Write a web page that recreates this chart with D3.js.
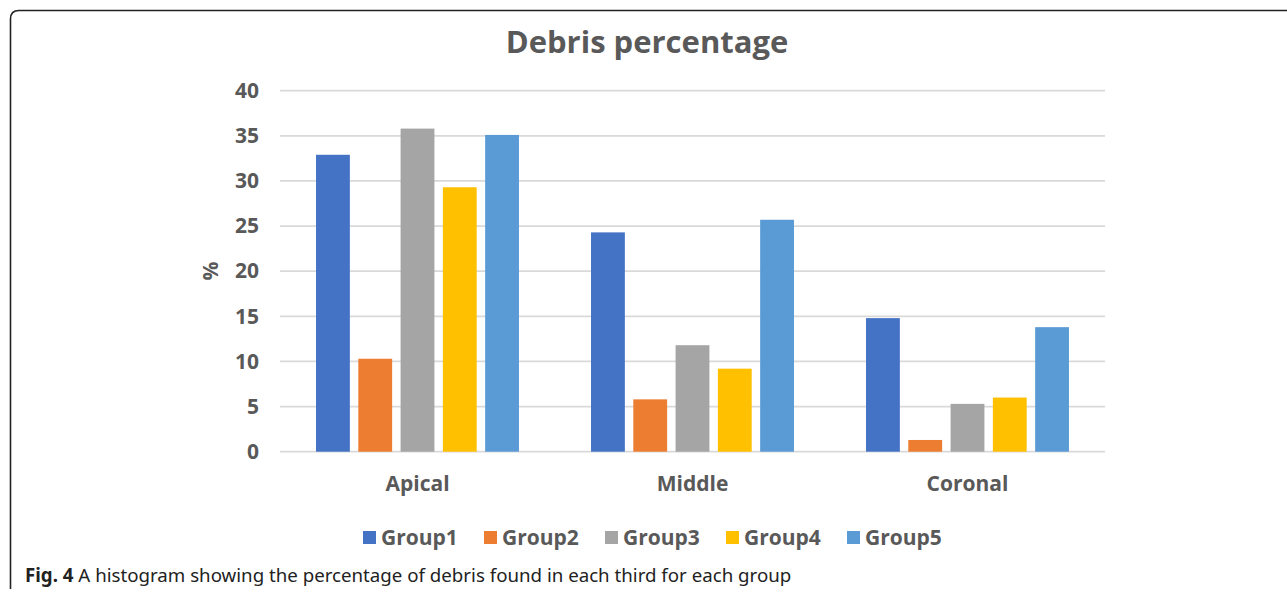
<!DOCTYPE html>
<html>
<head>
<meta charset="utf-8">
<script src="https://cdn.jsdelivr.net/npm/d3@7"></script>
<style>
  html, body { margin: 0; padding: 0; background: #fff; }
  svg { display: block; }
</style>
</head>
<body>
<svg id="chart" width="1287" height="592"></svg>
<script>
// Debris found in each root third, per group (%)
const categories = ["Apical", "Middle", "Coronal"];
const groups = ["Group1", "Group2", "Group3", "Group4", "Group5"];
const group1 = [32.9, 24.3, 14.8];
const group2 = [10.3, 5.8, 1.3];
const group3 = [35.8, 11.8, 5.3];
const group4 = [29.3, 9.2, 6.0];
const group5 = [35.1, 25.7, 13.8];
const yTicks = [0, 5, 10, 15, 20, 25, 30, 35, 40];
const colors = ["#4472C4", "#ED7D31", "#A5A5A5", "#FFC000", "#5B9BD5"];

const seriesValues = [group1, group2, group3, group4, group5];
const rows = categories.map((c, i) => ({
  category: c,
  values: groups.map((g, k) => ({ group: g, value: seriesValues[k][i] }))
}));

const svg = d3.select("#chart");
const W = 1287, H = 592;
const margin = { left: 280, right: 182, top: 90.7, bottom: 140.3 };
const innerW = W - margin.left - margin.right;
const innerH = H - margin.top - margin.bottom;
const labelColor = "#595959";
const chartFont = "'Open Sans', 'Noto Sans', sans-serif";

// Outer frame: top and left edges with a rounded corner
svg.append("path")
  .attr("d", "M1300,10.5 L19,10.5 Q10.5,10.5 10.5,19 L10.5,589")
  .attr("fill", "none")
  .attr("stroke", "#222")
  .attr("stroke-width", 1.6);

const g = svg.append("g").attr("transform", `translate(${margin.left},${margin.top})`);

const x0 = d3.scaleBand().domain(categories).range([0, innerW]).paddingInner(0.262).paddingOuter(0.131);
const x1 = d3.scaleBand().domain(groups).range([0, x0.bandwidth()]).paddingInner(0.2);
const y = d3.scaleLinear().domain([0, 40]).range([innerH, 0]);
const color = d3.scaleOrdinal().domain(groups).range(colors);

// Gridlines
g.append("g")
  .selectAll("line")
  .data(yTicks)
  .join("line")
  .attr("x1", 0)
  .attr("x2", innerW)
  .attr("y1", d => y(d))
  .attr("y2", d => y(d))
  .attr("stroke", "#D9D9D9")
  .attr("stroke-width", 1.8);

// Y axis labels
const yAxis = g.append("g")
  .call(d3.axisLeft(y).tickValues(yTicks).tickSize(0).tickPadding(21).tickFormat(d3.format("d")));
yAxis.select(".domain").remove();
yAxis.selectAll("text")
  .attr("fill", labelColor)
  .style("font-family", chartFont)
  .style("font-weight", 700)
  .style("font-size", "21px");

// Bars
g.append("g")
  .selectAll("g")
  .data(rows)
  .join("g")
  .attr("transform", d => `translate(${x0(d.category)},0)`)
  .selectAll("rect")
  .data(d => d.values)
  .join("rect")
  .attr("x", d => x1(d.group))
  .attr("width", x1.bandwidth())
  .attr("y", d => y(d.value))
  .attr("height", d => y(0) - y(d.value))
  .attr("fill", d => color(d.group));

// Category axis
const xAxis = g.append("g")
  .attr("transform", `translate(0,${innerH})`)
  .call(d3.axisBottom(x0).tickSize(0).tickPadding(24));
xAxis.select(".domain").remove();
xAxis.selectAll("text")
  .attr("fill", labelColor)
  .style("font-family", chartFont)
  .style("font-weight", 700)
  .style("font-size", "21px");

// Y axis title
svg.append("text")
  .attr("transform", "translate(210,271) rotate(-90)")
  .attr("text-anchor", "middle")
  .attr("dominant-baseline", "central")
  .attr("fill", labelColor)
  .style("font-family", chartFont)
  .style("font-weight", 700)
  .style("font-size", "21px")
  .text("%");

// Chart title
svg.append("text")
  .attr("x", 647)
  .attr("y", 53)
  .attr("text-anchor", "middle")
  .attr("fill", labelColor)
  .style("font-family", chartFont)
  .style("font-weight", 700)
  .style("font-size", "31px")
  .text("Debris percentage");

// Legend
const legendStep = 121;
const legend = svg.append("g").attr("transform", "translate(363,0)");
const item = legend.selectAll("g")
  .data(groups)
  .join("g")
  .attr("transform", (d, i) => `translate(${i * legendStep},0)`);
item.append("rect")
  .attr("x", 0)
  .attr("y", 531)
  .attr("width", 13)
  .attr("height", 13)
  .attr("fill", d => color(d));
item.append("text")
  .attr("x", 18)
  .attr("y", 545)
  .attr("fill", labelColor)
  .style("font-family", chartFont)
  .style("font-weight", 700)
  .style("font-size", "21px")
  .text(d => d);

// Figure caption
const cap = svg.append("text")
  .attr("x", 25)
  .attr("y", 582)
  .attr("fill", "#222")
  .style("font-family", "'Noto Sans', 'Open Sans', sans-serif")
  .style("font-size", "18.7px");
cap.append("tspan").style("font-weight", 700).text("Fig. 4");
cap.append("tspan").text(" A histogram showing the percentage of debris found in each third for each group");
</script>
</body>
</html>
